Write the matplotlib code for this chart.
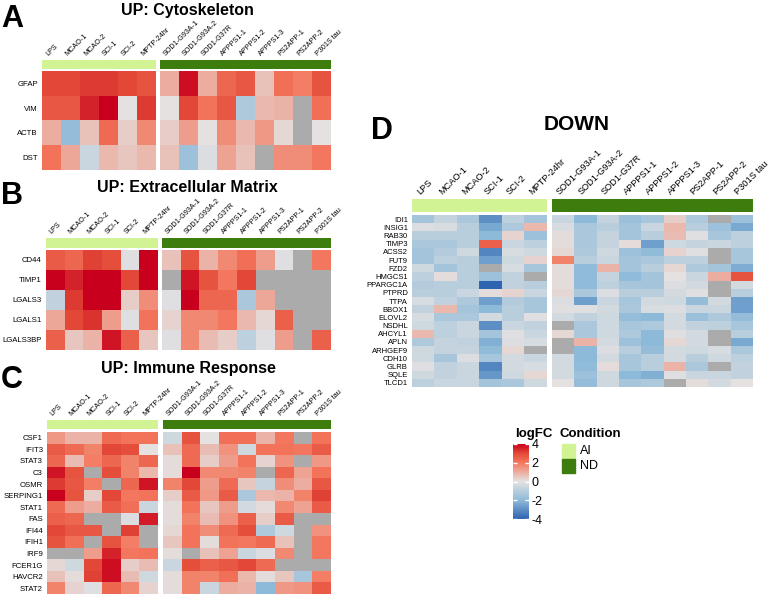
import numpy as np
import matplotlib
matplotlib.use("Agg")
import matplotlib.pyplot as plt
from matplotlib.colors import LinearSegmentedColormap
from matplotlib.patches import Rectangle
import matplotlib.cm as cm

plt.rcParams['font.family'] = ['Liberation Sans', 'DejaVu Sans']
plt.rcParams['axes.unicode_minus'] = False

NA = np.nan
cols_ai = ["LPS", "MCAO-1", "MCAO-2", "SCI-1", "SCI-2", "MPTP-24hr"]
cols_nd = ["SOD1-G93A-1", "SOD1-G93A-2", "SOD1-G37R", "APPPS1-1", "APPPS1-2",
           "APPPS1-3", "PS2APP-1", "PS2APP-2", "P301S tau"]

rows_a = ["GFAP", "VIM", "ACTB", "DST"]
vals_a = [
    [3.0, 3.0, 3.2, 3.2, 3.0, 2.8, 1.0, 3.8, 1.0, 2.4, 2.7, 0.6, 2.2, 1.9, 2.8],
    [2.7, 2.7, 3.5, 4.5, 0.0, 3.2, 0.0, 3.0, 2.1, 2.7, -1.2, 0.8, 0.9, NA, 2.2],
    [1.0, -1.8, 0.6, 2.3, 0.4, 1.7, 0.4, 1.3, 0.0, 1.6, 0.8, 1.4, 0.2, NA, 0.0],
    [2.1, 1.1, -0.6, 0.8, 0.5, 0.8, 0.6, -1.6, -0.2, 1.2, 0.6, NA, 1.6, 1.6, 2.0],
]

rows_b = ["CD44", "TIMP1", "LGALS3", "LGALS1", "LGALS3BP"]
vals_b = [
    [2.6, 2.4, 3.1, 2.9, -0.1, 4.5, 0.6, 2.8, 0.9, 1.7, 2.2, 1.3, -0.1, NA, 2.0],
    [4.5, 3.5, 4.0, 4.5, 3.0, 4.5, NA, 3.7, 2.8, 2.0, 3.0, NA, NA, NA, NA],
    [-0.8, 3.2, 4.5, 4.5, 0.4, 1.6, -0.1, 4.5, 2.4, 2.4, -1.3, 1.1, NA, NA, NA],
    [1.1, 3.0, 3.3, 1.3, -0.1, 2.1, 0.3, 1.7, 1.7, 2.0, 0.8, 0.2, 2.5, NA, NA],
    [2.5, 0.5, 0.9, 3.7, 2.5, 0.5, -0.1, 1.7, 0.7, 0.4, -0.9, -0.1, 1.3, NA, 2.5],
]

rows_c = ["CSF1", "IFIT3", "STAT3", "C3", "OSMR", "SERPING1", "STAT1", "FAS",
          "IFI44", "IFIH1", "IRF9", "FCER1G", "HAVCR2", "STAT2"]
vals_c = [
    [1.4, 0.9, 0.9, 2.3, 2.1, 2.1, -0.5, 2.8, 0.0, 2.2, 2.2, 0.9, 2.0, NA, 2.1],
    [2.6, 2.3, 1.8, 3.0, 2.9, 0.0, 0.6, 2.3, 0.7, 1.5, -0.5, 2.1, 2.1, 2.0, 2.6],
    [2.4, 0.7, 1.9, 2.4, 1.8, 2.4, 0.1, 2.3, 0.4, 1.3, 2.1, 0.3, 1.5, NA, 1.4],
    [3.7, 2.8, NA, 2.9, 1.8, 0.8, 0.1, 4.5, 1.7, 1.7, 1.8, NA, 2.4, 1.2, 2.1],
    [3.2, 2.7, 1.9, NA, 2.4, 3.7, 1.8, 3.0, 1.3, 2.3, 0.5, -0.7, 1.6, 1.0, 2.7],
    [4.5, 2.8, 0.4, 3.0, 2.0, 2.1, 0.4, 2.6, 1.4, 2.6, -1.3, 0.8, 0.9, 1.8, 3.1],
    [2.3, 1.3, 1.0, 2.6, 2.2, -0.6, 0.1, 2.1, 0.5, 1.3, -0.4, 0.1, 1.7, 1.2, 2.6],
    [2.5, 2.4, NA, NA, -0.2, 3.6, 0.1, 1.8, 0.7, 1.5, 2.5, 0.4, 2.6, NA, NA],
    [3.0, 2.7, 2.7, NA, 3.1, NA, 0.2, 2.1, 1.6, 2.3, 2.9, -1.2, -0.5, NA, 1.5],
    [2.8, 2.2, NA, 2.8, 1.9, NA, 0.5, 2.1, 0.1, 2.1, 2.0, 2.3, 0.6, NA, 2.0],
    [NA, NA, 1.3, 3.5, 2.0, 2.1, 0.1, NA, 0.6, 1.2, -0.6, -0.2, 1.7, NA, 2.0],
    [0.2, -0.5, 3.0, 3.8, 0.4, 0.7, -0.6, 2.9, 2.5, 2.7, 3.0, 2.3, NA, NA, NA],
    [0.6, 0.1, 3.1, 3.8, 0.7, -0.5, 0.1, 1.8, 1.8, 2.2, 0.8, 0.1, 0.5, -1.4, 1.9],
    [1.8, 0.3, -0.1, 2.4, 1.7, 0.3, 0.1, 1.8, -0.6, 1.0, 0.9, -2.0, 1.4, 1.5, 2.6],
]

rows_d = ["IDI1", "INSIG1", "RAB30", "TIMP3", "ACSS2", "FUT9", "FZD2", "HMGCS1",
          "PPARGC1A", "PTPRD", "TTPA", "BBOX1", "ELOVL2", "NSDHL", "AHCYL1",
          "APLN", "ARHGEF9", "CDH10", "GLRB", "SQLE", "TLCD1"]
vals_d = [
    [-1.5, -0.7, -1.3, -3.0, -0.9, -1.5, -0.6, -2.0, -0.7, -1.7, -1.4, 0.4, -1.2, NA, -1.6],
    [-0.2, -0.3, -1.0, -2.4, -1.2, 0.8, -0.3, -1.3, -1.0, -1.5, -0.6, 0.8, -1.0, -1.6, -2.4],
    [-1.0, -1.0, -1.0, -2.0, 0.3, -1.6, 0.1, -1.3, -0.7, -1.5, -1.0, 0.7, -0.1, -1.4, -0.9],
    [-1.3, -1.3, -1.0, 2.5, -0.6, -0.9, 0.1, -1.3, -0.7, 0.1, -2.6, -0.5, -0.7, -0.6, -0.9],
    [-1.5, -1.1, -0.5, -3.2, -0.3, -0.5, 0.2, -1.2, -0.5, -1.6, -1.9, 0.3, -0.1, NA, -1.4],
    [-1.5, -0.9, -1.0, -2.6, -0.5, 0.3, 1.8, -1.0, -0.6, -1.5, -1.3, -0.9, -0.9, NA, -1.4],
    [-0.5, -1.5, -1.0, NA, -0.3, -1.4, 0.1, -1.9, 0.9, -1.5, -1.0, 0.2, -1.2, -1.5, -2.3],
    [-0.9, 0.1, -1.0, -1.6, -0.8, NA, 0.1, -1.9, -0.7, -1.9, -1.5, 0.0, -0.6, 1.0, 2.8],
    [-1.1, -1.0, -1.0, -4.0, -0.8, -1.0, 0.1, -1.9, -0.9, -1.4, -1.5, -0.2, -0.4, NA, -0.4],
    [-1.0, -1.0, -0.6, 0.1, 0.3, -0.6, 0.2, -1.3, -0.2, -1.0, -1.0, -0.4, -0.1, NA, -1.0],
    [-0.3, -0.8, -1.2, -2.6, -1.1, -1.4, -0.2, -2.6, -0.6, -1.4, -0.4, -0.5, -1.8, -0.4, -2.6],
    [-0.8, 0.8, -1.5, -2.0, -1.0, -1.4, -0.1, -0.1, -0.4, -1.3, -0.3, -0.2, -0.6, -0.6, -2.6],
    [-0.3, -1.3, -1.3, -0.4, -1.0, -0.1, -0.4, -0.8, -0.5, -1.8, -2.0, -0.4, -1.7, -1.2, -1.8],
    [-0.5, -0.9, -0.6, -3.0, -0.6, -0.8, NA, -1.3, -0.5, -1.4, -1.2, -0.4, -0.8, -0.9, -1.4],
    [0.8, -0.9, -0.6, -1.5, -0.1, -0.6, 0.2, -1.3, -0.5, -1.2, -2.0, -0.1, -0.4, NA, -1.0],
    [-1.2, -0.7, -0.8, -2.2, -0.2, -0.3, NA, 0.9, -0.4, -1.6, -2.0, 0.2, -0.4, NA, -2.4],
    [-0.5, -0.7, -0.7, -1.9, 0.2, NA, NA, -2.0, -0.2, -1.0, -1.8, -0.4, -0.5, -0.3, -1.3],
    [-0.5, -1.4, -0.2, -1.4, -0.4, -0.6, -0.4, -2.0, -0.4, -1.4, -1.0, -0.4, -1.0, -0.5, -0.9],
    [-0.1, -0.8, -0.6, -3.2, -0.4, -0.3, -0.4, -1.9, 0.1, -1.4, -1.0, 0.9, -1.3, NA, -0.8],
    [-0.5, -0.8, -0.6, -2.8, -0.5, 0.2, -0.4, -1.6, -0.5, -2.0, -2.2, -0.1, -0.6, -0.6, -0.8],
    [-0.9, -0.6, -0.6, -1.5, -1.3, -0.5, 0.0, -1.8, -0.5, -1.4, -1.2, NA, 0.1, -0.4, 0.0],
]

ai_color = "#D1F394"
nd_color = "#3C7D0E"
cmap = LinearSegmentedColormap.from_list(
    "lfc", [(0.0, "#2E64B0"), (0.25, "#8DBAD9"), (0.5, "#E4E2E2"),
            (0.75, "#F4795F"), (0.875, "#E34A38"), (1.0, "#C8001E")])
cmap.set_bad("#ABABAB")

W, H = 778, 596
fig = plt.figure(figsize=(W / 100, H / 100), dpi=100)


def rect(x0, y0, x1, y1):
    return [x0 / W, 1 - y1 / H, (x1 - x0) / W, (y1 - y0) / H]


def draw_panel(rows, vals, ai_x, nd_x, bar_y, hm_y, colfs, rowfs):
    vals = np.array(vals, dtype=float)
    parts = [(ai_x, cols_ai, ai_color, vals[:, :6]),
             (nd_x, cols_nd, nd_color, vals[:, 6:])]
    for k, (xr, cols, color, block) in enumerate(parts):
        ax = fig.add_axes(rect(xr[0], hm_y[0], xr[1], hm_y[1]))
        ax.imshow(np.ma.masked_invalid(block), cmap=cmap, vmin=-4, vmax=4,
                  aspect='auto', interpolation='nearest')
        ax.set_xticks([])
        for s in ax.spines.values():
            s.set_visible(False)
        if k == 0:
            ax.set_yticks(range(len(rows)))
            ax.set_yticklabels(rows, fontsize=rowfs)
            ax.tick_params(axis='y', length=0, pad=3)
        else:
            ax.set_yticks([])
        bx = fig.add_axes(rect(xr[0], bar_y[0], xr[1], bar_y[1]))
        bx.set_xlim(-0.5, len(cols) - 0.5)
        bx.set_facecolor(color)
        bx.set_xticks([])
        bx.set_yticks([])
        for s in bx.spines.values():
            s.set_visible(False)
        for j, c in enumerate(cols):
            bx.annotate(c, xy=(j, 1), xycoords=('data', 'axes fraction'),
                        xytext=(-1.5, 2), textcoords='offset points',
                        rotation=45, ha='left', va='bottom',
                        rotation_mode='anchor', fontsize=colfs)


draw_panel(rows_a, vals_a, (42, 156), (160, 331), (60, 69), (71, 170), 5.2, 5.6)
draw_panel(rows_b, vals_b, (46, 158), (162, 331), (238, 248), (250, 350), 5.2, 5.6)
draw_panel(rows_c, vals_c, (47, 158), (163, 331), (420, 429), (432, 594), 5.2, 5.6)
draw_panel(rows_d, vals_d, (412, 547), (552, 753), (199, 212), (215, 387), 6.7, 5.5)

# panel letters and titles
for letter, x, y in [("A", 1, 4), ("B", 1, 181), ("C", 1, 365), ("D", 371, 116)]:
    fig.text(x / W, 1 - y / H, letter, fontsize=22, fontweight='bold',
             ha='left', va='top')
for title, x, y, fs in [("UP: Cytoskeleton", 187, 10, 11.5),
                        ("UP: Extracellular Matrix", 187, 187, 11.5),
                        ("UP: Immune Response", 188, 368, 11.5),
                        ("DOWN", 577, 124, 15)]:
    fig.text(x / W, 1 - y / H, title, fontsize=fs, fontweight='bold',
             ha='center', va='center')

# logFC colorbar
cax = fig.add_axes(rect(513, 444, 529, 519))
sm = cm.ScalarMappable(cmap=cmap, norm=plt.Normalize(-4, 4))
cb = fig.colorbar(sm, cax=cax, ticks=[-4, -2, 0, 2, 4])
cb.outline.set_visible(False)
cb.ax.tick_params(direction='in', color='white', length=3, width=1,
                  left=True, right=True, labelsize=9, pad=2)
fig.text(515 / W, 1 - 440 / H, "logFC", fontsize=9.5, fontweight='bold',
         ha='left', va='bottom')

# condition legend
fig.text(560 / W, 1 - 440 / H, "Condition", fontsize=9.5, fontweight='bold',
         ha='left', va='bottom')
for lab, color, y0 in [("AI", ai_color, 444), ("ND", nd_color, 459)]:
    fig.add_artist(Rectangle((562 / W, 1 - (y0 + 14) / H), 13 / W, 14 / H,
                             transform=fig.transFigure, color=color))
    fig.text(580 / W, 1 - (y0 + 7) / H, lab, fontsize=9, ha='left', va='center')

fig.savefig("out.png", dpi=100)
